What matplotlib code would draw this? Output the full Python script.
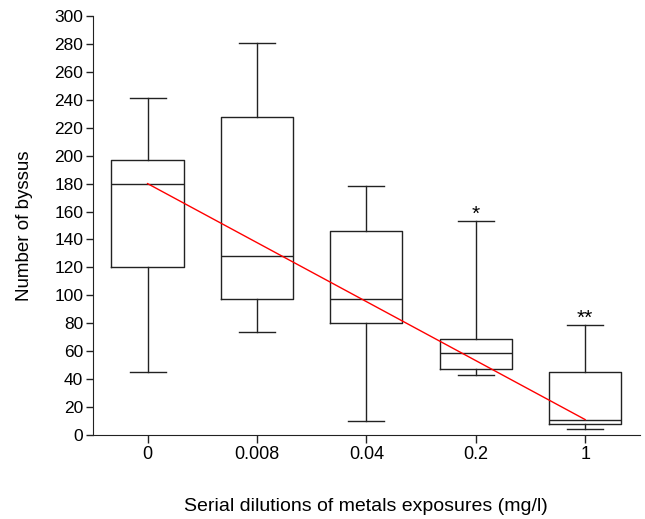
import matplotlib
matplotlib.use("Agg")
import matplotlib.pyplot as plt

plt.rcParams["font.family"] = ["Liberation Sans", "DejaVu Sans"]

# Data
categories = ["0", "0.008", "0.04", "0.2", "1"]
whisker_low = [45, 74, 10, 43, 4]
q1 = [120, 97, 80, 47, 8]
median = [180, 128, 97, 59, 11]
q3 = [197, 228, 146, 69, 45]
whisker_high = [241, 281, 178, 153, 79]
signif = ["", "", "", "*", "**"]
trend_x = [0, 4]
trend_y = [180, 11]

stats = []
for i, c in enumerate(categories):
    stats.append(dict(label=c, whislo=whisker_low[i], q1=q1[i], med=median[i],
                      q3=q3[i], whishi=whisker_high[i], fliers=[]))

fig = plt.figure(figsize=(6.45, 5.19), dpi=100)
ax = fig.add_axes([0.144, 0.162, 0.848, 0.807])

line_col = "#222222"
lp = dict(color=line_col, linewidth=1.0)
ax.bxp(stats, positions=range(len(categories)), widths=0.66, showfliers=False,
       boxprops=lp, whiskerprops=lp, capprops=lp,
       medianprops=dict(color=line_col, linewidth=1.0), capwidths=0.33)

ax.plot(trend_x, trend_y, color="red", linewidth=1.0, zorder=3)

for i, s in enumerate(signif):
    if s:
        ax.text(i, whisker_high[i] - 2, s, ha="center", va="bottom", fontsize=15)

ax.set_xlim(-0.5, 4.5)
ax.set_ylim(0, 300)
ax.set_yticks(range(0, 301, 20))
ax.set_xticks(range(len(categories)))
ax.set_xticklabels(categories)
ax.tick_params(axis="y", labelsize=12.5, direction="out", length=5, width=1, color=line_col, pad=2)
ax.tick_params(axis="x", labelsize=13, direction="out", length=6, width=1, color=line_col, pad=2)
ax.spines["top"].set_visible(False)
ax.spines["right"].set_visible(False)
ax.spines["left"].set_color(line_col)
ax.spines["bottom"].set_color(line_col)

ax.set_ylabel("Number of byssus", fontsize=13.5, labelpad=15)
ax.set_xlabel("Serial dilutions of metals exposures (mg/l)", fontsize=14, labelpad=25)

fig.savefig("out.png", dpi=100)
